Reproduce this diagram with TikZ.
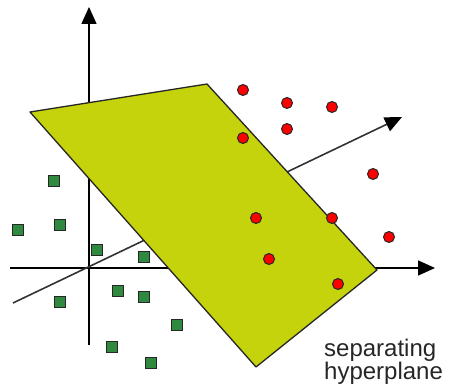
\documentclass[tikz,border=0pt]{standalone}
\usepackage{fontspec}
\setmainfont{Liberation Sans}
\definecolor{hPlane}{HTML}{C4D30C}
\definecolor{hGreen}{HTML}{2F8A3F}
\definecolor{hRed}{HTML}{FF0000}
\usetikzlibrary{arrows.meta}

\begin{document}
\begin{tikzpicture}[x=1pt, y=-1pt,
  axis/.style={line width=1.6pt, -{Triangle[length=17pt, width=15pt, color=black]}},
  plane/.style={draw=black!85, line width=1.3pt, fill=hPlane, line join=round},
  negbox/.style={draw=black!85, line width=1pt, fill=hGreen, minimum size=11pt, inner sep=0pt},
  posdot/.style={circle, draw=black!85, line width=1pt, fill=hRed, minimum size=11pt, inner sep=0pt}]
  \useasboundingbox (0,0) rectangle (449,385);
  \coordinate (yb) at (89,345);  \coordinate (yt) at (89,7);
  \coordinate (xl) at (10,268);  \coordinate (xr) at (435,268);
  \coordinate (zl) at (13,303);  \coordinate (zr) at (402,117);
  \draw[axis] (yb) -- (yt);
  \draw[axis] (xl) -- (xr);
  \draw[axis, draw=black!80] (zl) -- (zr);
  \draw[plane] (30,112) -- (207,84) -- (377,270) -- (256,367) -- cycle;
  \foreach \x/\y [count=\i] in {54/181, 18/230, 60/225, 97/250, 144/257, 118/291,
      144/297, 60/302, 177/325, 112/347, 151/363}
    \node[negbox] (n\i) at (\x,\y) {};
  \foreach \x/\y [count=\i] in {243/90, 287/103, 332/107, 287/129, 243/138, 373/174,
      256/218, 332/218, 389/237, 269/259, 338/284}
    \node[posdot] (p\i) at (\x,\y) {};
  \node[font=\fontsize{24}{20}\selectfont, align=left, anchor=north west, inner sep=0pt,
        text=black!85] (lbl) at (324,339) {separating\\hyperplane};
\end{tikzpicture}
\end{document}
